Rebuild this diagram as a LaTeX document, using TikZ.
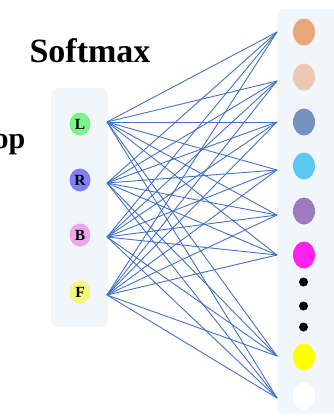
\documentclass[tikz,border=0pt]{standalone}
\usepackage{fontspec}
\setmainfont{Liberation Serif}
\usetikzlibrary{shapes.geometric}
\definecolor{Panel}{HTML}{F1F6FB}
\definecolor{Wire}{HTML}{4472C4}
\definecolor{Lgreen}{HTML}{7EF08C}
\definecolor{Rblue}{HTML}{8080FF}
\definecolor{Bpink}{HTML}{EDA5EE}
\definecolor{Fyellow}{HTML}{F4F77E}
\definecolor{Orange}{HTML}{E8A87C}
\definecolor{Peach}{HTML}{EBC9B4}
\definecolor{Steel}{HTML}{7592C0}
\definecolor{Sky}{HTML}{5AC8F2}
\definecolor{Lilac}{HTML}{9C7BBE}
\definecolor{Magenta}{HTML}{FF22EC}
\definecolor{Lemon}{HTML}{FFFF00}

\begin{document}
\begin{tikzpicture}[x=1pt,y=-1pt,font=\bfseries,
  inp/.style={ellipse,inner sep=0pt,minimum width=21pt,minimum height=23pt,font=\fontsize{15.5}{17}\selectfont\bfseries},
  outp/.style={ellipse,inner sep=0pt,minimum width=22pt,minimum height=27pt},
  dot/.style={circle,fill=black,inner sep=0pt,minimum size=9pt},
  wire/.style={Wire,line width=0.9pt}]
  \useasboundingbox (0,0) rectangle (334,418);
  % panels
  \fill[Panel,rounded corners=7pt] (51,88) rectangle (108,327);
  \fill[Panel,rounded corners=7pt] (277,9) rectangle (360,414);
  % titles
  \node[anchor=base] (softmax) at (90,62) {\fontsize{34}{40}\selectfont Softmax};
  \node[anchor=base east,inner sep=0pt] (loop) at (25.5,148) {\fontsize{30}{36}\selectfont op};
  % inputs
  \foreach \n/\y/\py/\c in {L/124/122/Lgreen,R/180/183/Rblue,B/235/237/Bpink,F/292/295/Fyellow}{
    \node[inp,fill=\c] (\n) at (80,\y) {\n};
    \coordinate (\n p) at (107,\py);
  }
  % outputs
  \foreach \i/\y/\py/\c in {1/32/32/Orange,2/77/81/Peach,3/122/122/Steel,4/166/170/Sky,5/211/215/Lilac,6/255/255/Magenta,7/357/356/Lemon,8/396/398/white}{
    \node[outp,fill=\c] (o\i) at (304,\y) {};
    \coordinate (o\i p) at (277,\py);
  }
  \foreach \i/\y in {1/282,2/306,3/327}{\node[dot] (dot\i) at (303.5,\y) {};}
  % connections
  \foreach \a in {L,R,B,F}{
    \foreach \i in {1,...,8}{\draw[wire] (\a p) -- (o\i p);}
  }
\end{tikzpicture}
\end{document}
